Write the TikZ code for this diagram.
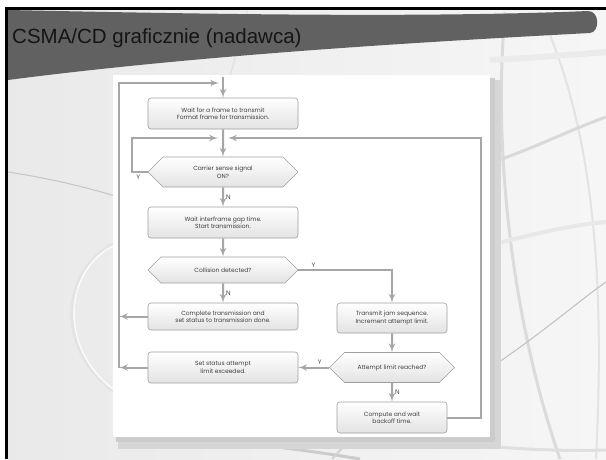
\documentclass[tikz,border=0pt]{standalone}
\usepackage{fontspec}
\setmainfont{Liberation Sans}
\newfontfamily\flowfont{Poppins}
\usetikzlibrary{shapes.symbols, arrows}
\definecolor{titleink}{RGB}{22,20,20}
\tikzset{
  block/.style={
    rectangle,
    rounded corners=3pt,
    draw=gray!75,
    line width=0.6pt,
    top color=white,
    bottom color=gray!22,
    text=black!75,
    minimum width=150pt,
    minimum height=31pt,
    inner sep=1pt,
    align=center,
    font=\flowfont\fontsize{6}{7.5}\selectfont
  },
  decision/.style={
    signal,
    signal to=west and east,
    signal pointer angle=90,
    draw=gray!75,
    line width=0.6pt,
    top color=white,
    bottom color=gray!22,
    text=black!75,
    minimum width=150pt,
    minimum height=30pt,
    inner sep=1pt,
    align=center,
    font=\flowfont\fontsize{6}{7.5}\selectfont
  },
  lbl/.style={text=black!70, inner sep=2pt, font=\flowfont\fontsize{6.5}{7}\selectfont}
}
\tikzstyle{arrow} = [->, >=latex', draw=gray!70, line width=2pt]

\begin{document}
\begin{tikzpicture}[x=1pt, y=-1pt]
    \useasboundingbox (0,0) rectangle (606,459);
    % slide background
    \fill[white] (0,0) rectangle (606,459);
    \fill[left color=gray!17, right color=gray!7] (7,8) rectangle (606,459);
    \draw[gray!45, line width=1pt] (8,172) .. controls (60,180) and (95,190) .. (115,196);
    \draw[gray!22, line width=3pt] (115,243) .. controls (60,270) and (55,350) .. (115,392);
    \draw[gray!4, line width=1.5pt] (113,246) .. controls (63,272) and (59,348) .. (113,389);
    \draw[gray!28, line width=3pt] (505,12) .. controls (492,160) and (515,330) .. (560,459);
    \draw[gray!22, line width=2pt] (540,12) .. controls (590,120) and (606,260) .. (596,459);
    \draw[gray!30, line width=3pt] (490,163) .. controls (530,150) and (570,130) .. (606,117);
    \draw[gray!16, line width=6pt] (490,60) .. controls (530,58) and (570,55) .. (606,52);
    \draw[gray!18, line width=4pt] (490,245) .. controls (530,235) and (570,225) .. (606,222);
    \draw[gray!50, line width=1pt] (490,368) .. controls (540,335) and (580,300) .. (606,282);
    \draw[gray!25, line width=1pt] (248,8) .. controls (240,40) and (232,70) .. (226,90);
    \draw[gray!40, line width=3pt] (220,440) .. controls (270,446) and (320,452) .. (360,459);
    \draw[gray!35, line width=2pt] (332,459) .. controls (340,450) and (348,442) .. (356,436);
    \draw[gray!25, line width=3pt] (420,440) .. controls (480,446) and (540,452) .. (606,450);
    % black frame
    \draw[black, line width=3pt] (6.5,459) -- (6.5,8.5) -- (606,8.5);
    % title band
    \fill[black!62] (8,10) .. controls (200,14) and (420,18) .. (588,11)
        .. controls (600,11) and (600,32) .. (590,33)
        .. controls (420,42) and (200,55) .. (8,80) -- cycle;
    % panel with shadow
    \fill[gray!32] (118,80) rectangle (501,449);
    \fill[gray!40] (116,78) rectangle (495,442);
    \fill[white] (113,75) rectangle (490,437);

    % flowchart
    \node[block] (wait) at (223,113.5) {Wait for a frame to transmit\\Format frame for transmission.};
    \node[decision] (sense) at (223,172) {Carrier sense signal\\ON?};
    \node[block] (gap) at (223,222.5) {Wait interframe gap time.\\Start transmission.};
    \node[decision, minimum height=26pt] (coll) at (223,270) {Collision detected?};
    \node[block, minimum height=27pt] (done) at (223,316.5) {Complete transmission and\\set status to transmission done.};
    \node[block] (fail) at (223,367.5) {Set status attempt\\limit exceeded.};
    \node[block, minimum width=110pt, minimum height=30pt] (jam) at (392,318) {Transmit jam sequence.\\Increment attempt limit.};
    \node[decision, minimum width=125pt] (limit) at (392,367.5) {Attempt limit reached?};
    \node[block, minimum width=110pt] (backoff) at (392,417.5) {Compute and wait\\backoff time.};

    \coordinate (start) at (223,77);
    \coordinate (leftbus) at (119,83);
    \coordinate (topin) at (219,83);
    \coordinate (senseloop) at (132,138);
    \coordinate (mergeL) at (218,138);
    \coordinate (mergeR) at (228,138);
    \coordinate (rightbus) at (481,138);

    \draw[arrow] (start) -- (wait);
    \draw[arrow] (wait) -- (sense);
    \draw[arrow] (sense.west) -- node[lbl, below, pos=0.6] {Y} (senseloop |- sense) -- (senseloop) -- (mergeL);
    \draw[arrow] (sense) -- node[lbl, right] {N} (gap);
    \draw[arrow] (gap) -- (coll);
    \draw[arrow] (coll.east) -| node[lbl, above, pos=0.08] {Y} (jam);
    \draw[arrow] (coll) -- node[lbl, right] {N} (done);
    \draw[arrow] (jam) -- (limit);
    \draw[arrow] (limit) -- node[lbl, right] {N} (backoff);
    \draw[arrow] (limit.west) -- node[lbl, above, pos=0.3] {Y} (fail.east);
    \draw[arrow] (done.west) -- (leftbus |- done);
    \draw[arrow] (fail.west) -- (leftbus |- fail);
    \draw[arrow] (leftbus |- fail) -- (leftbus) -- (topin);
    \draw[arrow] (backoff.east) -| (rightbus) -- (mergeR);

    % slide title
    \node[anchor=base west, inner sep=0pt, text=titleink, font=\fontsize{20.5}{24}\selectfont] (title) at (12,43) {CSMA/CD graficznie (nadawca)};
\end{tikzpicture}
\end{document}
